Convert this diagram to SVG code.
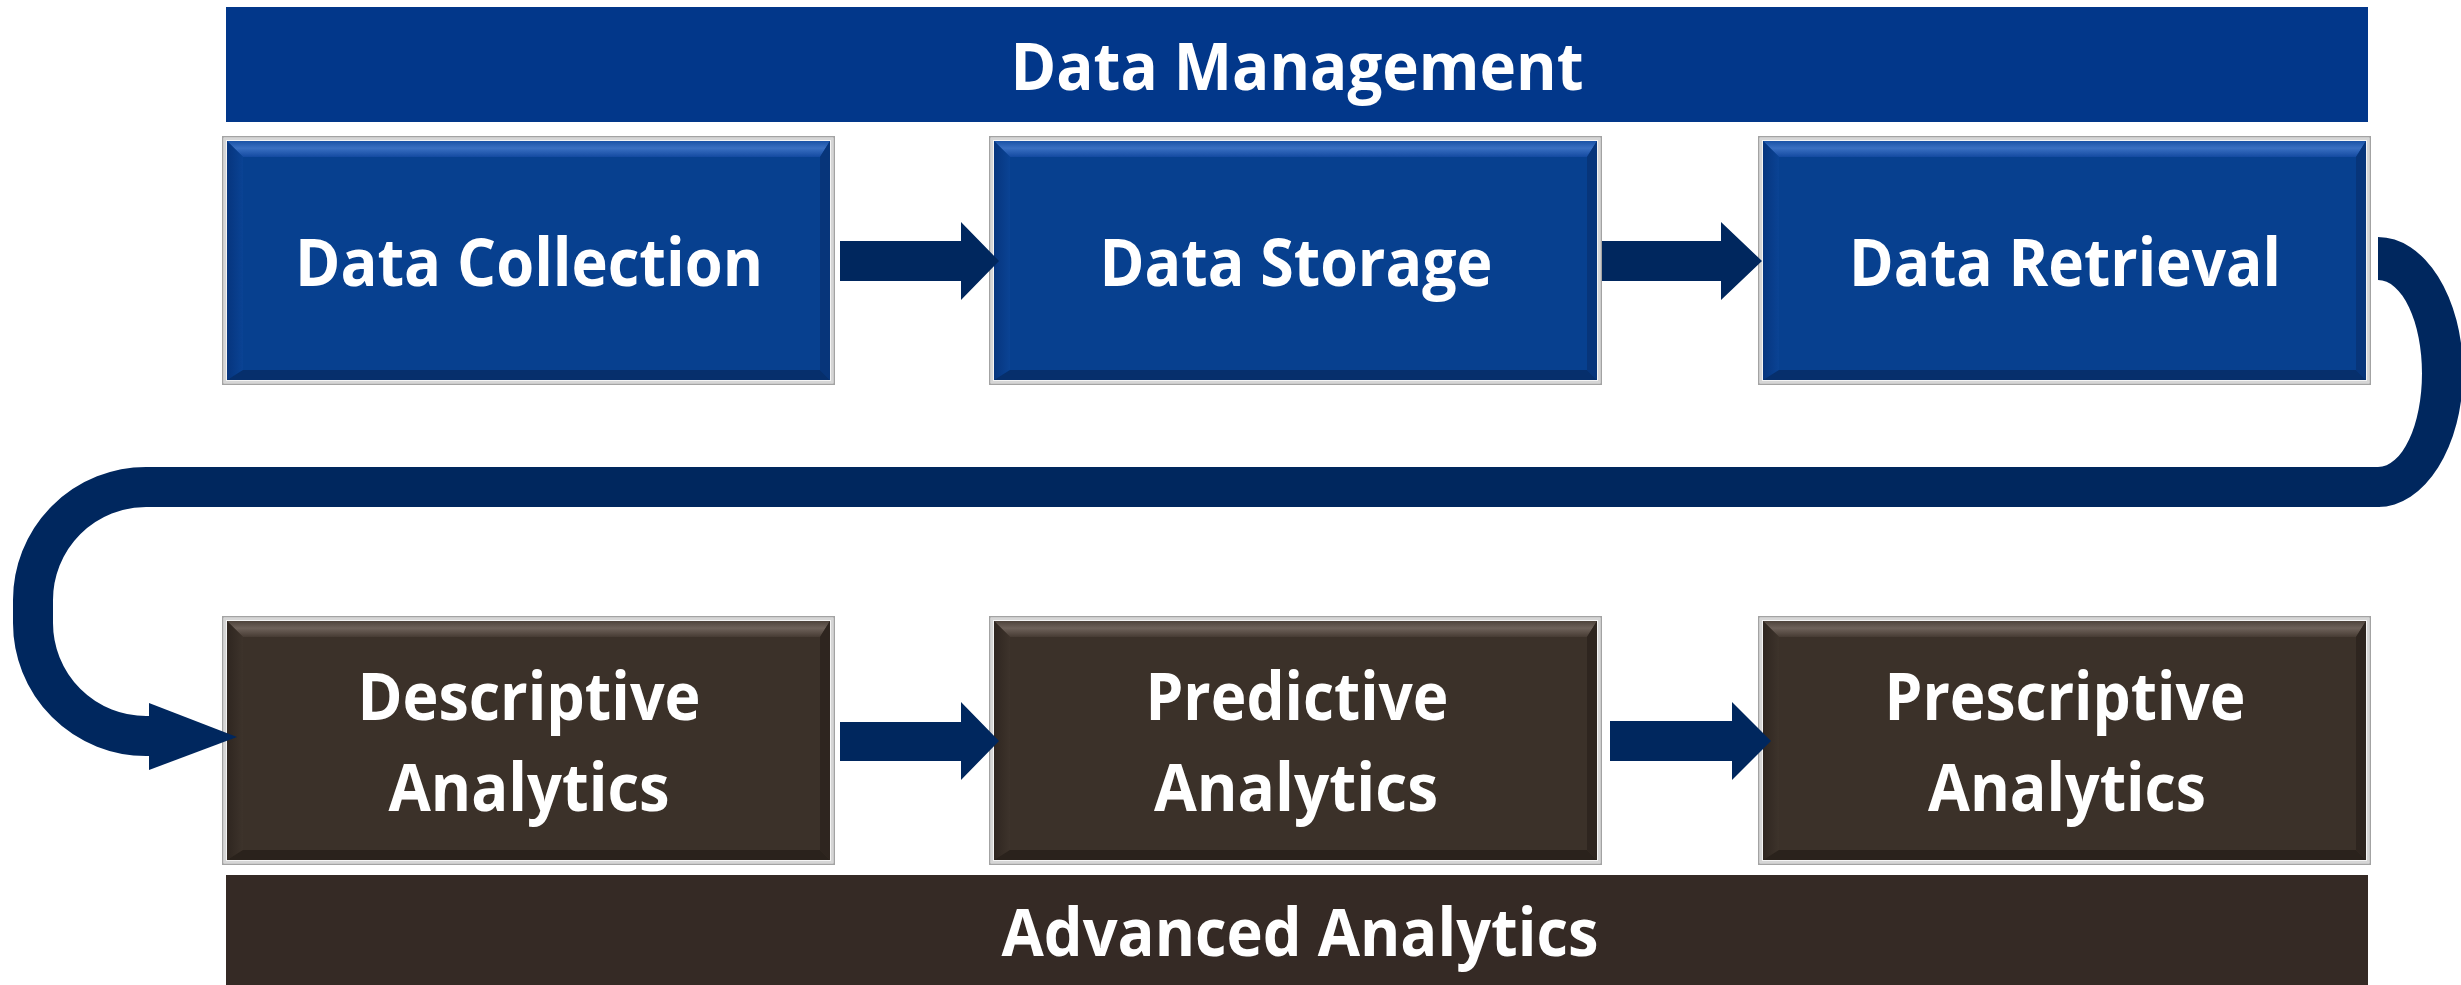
<svg xmlns="http://www.w3.org/2000/svg" xmlns:xlink="http://www.w3.org/1999/xlink" width="2461" height="985" viewBox="0 0 2461 985">
  <style>
    .lbl { font-family: "Open Sans", "Noto Sans", "Liberation Sans", sans-serif; font-weight: 700; font-size: 67px; fill: #ffffff; text-anchor: middle; }
    .conn { fill: #00275E; }
    .frame { fill: #F4F4F4; stroke: #A3A3A3; stroke-width: 1.5; }
    .frame-in { fill: none; stroke: #D6D6D6; stroke-width: 2; }
  </style>
  <defs>
    <linearGradient id="blueTop" x1="0" y1="0" x2="0" y2="1">
      <stop offset="0" stop-color="#1A52A6"/>
      <stop offset="0.45" stop-color="#3A70C2"/>
      <stop offset="1" stop-color="#1349A0"/>
    </linearGradient>
    <linearGradient id="blueLeft" x1="0" y1="0" x2="1" y2="0">
      <stop offset="0" stop-color="#06357E"/>
      <stop offset="1" stop-color="#0A4394"/>
    </linearGradient>
    <linearGradient id="brownTop" x1="0" y1="0" x2="0" y2="1">
      <stop offset="0" stop-color="#4E433B"/>
      <stop offset="0.45" stop-color="#6E625A"/>
      <stop offset="1" stop-color="#463B33"/>
    </linearGradient>
    <linearGradient id="brownLeft" x1="0" y1="0" x2="1" y2="0">
      <stop offset="0" stop-color="#2F2620"/>
      <stop offset="1" stop-color="#3D332B"/>
    </linearGradient>

    <!-- bevelled tile, 613 x 249, blue -->
    <g id="tileBlue">
      <rect class="frame" x="0.75" y="0.75" width="611.5" height="247.5"/>
      <rect class="frame-in" x="3" y="3" width="607" height="243"/>
      <rect x="5" y="5" width="603" height="239" fill="#07408F"/>
      <polygon points="5,5 608,5 598,21 21,21" fill="url(#blueTop)"/>
      <polygon points="5,5 21,21 21,234 5,244" fill="url(#blueLeft)"/>
      <polygon points="608,5 608,244 598,234 598,21" fill="#07357A"/>
      <polygon points="5,244 608,244 598,234 21,234" fill="#062F6C"/>
    </g>

    <!-- bevelled tile, 613 x 249, brown -->
    <g id="tileBrown">
      <rect class="frame" x="0.75" y="0.75" width="611.5" height="247.5"/>
      <rect class="frame-in" x="3" y="3" width="607" height="243"/>
      <rect x="5" y="5" width="603" height="239" fill="#3B3129"/>
      <polygon points="5,5 608,5 598,21 21,21" fill="url(#brownTop)"/>
      <polygon points="5,5 21,21 21,234 5,244" fill="url(#brownLeft)"/>
      <polygon points="608,5 608,244 598,234 598,21" fill="#2E251F"/>
      <polygon points="5,244 608,244 598,234 21,234" fill="#2A221C"/>
    </g>
  </defs>

  <rect width="2461" height="985" fill="#ffffff"/>

  <!-- header band -->
  <g id="data-management">
    <rect x="226" y="7" width="2142" height="115" fill="#02378A"/>
    <text class="lbl" x="1297" y="90" textLength="573" lengthAdjust="spacingAndGlyphs">Data Management</text>
  </g>

  <!-- top row -->
  <g id="data-collection">
    <use xlink:href="#tileBlue" x="222" y="136"/>
    <text class="lbl" x="529" y="286" textLength="468" lengthAdjust="spacingAndGlyphs">Data Collection</text>
  </g>
  <g id="data-storage">
    <use xlink:href="#tileBlue" x="989" y="136"/>
    <text class="lbl" x="1296" y="286" textLength="393" lengthAdjust="spacingAndGlyphs">Data Storage</text>
  </g>
  <g id="data-retrieval">
    <use xlink:href="#tileBlue" x="1758" y="136"/>
    <text class="lbl" x="2065" y="286" textLength="432" lengthAdjust="spacingAndGlyphs">Data Retrieval</text>
  </g>

  <!-- bottom row -->
  <g id="descriptive-analytics">
    <use xlink:href="#tileBrown" x="222" y="616"/>
    <text class="lbl" x="529" y="720" textLength="343" lengthAdjust="spacingAndGlyphs">Descriptive</text>
    <text class="lbl" x="529" y="811" textLength="281" lengthAdjust="spacingAndGlyphs">Analytics</text>
  </g>
  <g id="predictive-analytics">
    <use xlink:href="#tileBrown" x="989" y="616"/>
    <text class="lbl" x="1297" y="720" textLength="303" lengthAdjust="spacingAndGlyphs">Predictive</text>
    <text class="lbl" x="1296" y="811" textLength="284" lengthAdjust="spacingAndGlyphs">Analytics</text>
  </g>
  <g id="prescriptive-analytics">
    <use xlink:href="#tileBrown" x="1758" y="616"/>
    <text class="lbl" x="2065" y="720" textLength="361" lengthAdjust="spacingAndGlyphs">Prescriptive</text>
    <text class="lbl" x="2067" y="811" textLength="278" lengthAdjust="spacingAndGlyphs">Analytics</text>
  </g>

  <!-- footer band -->
  <g id="advanced-analytics">
    <rect x="226" y="875" width="2142" height="110" fill="#352A25"/>
    <text class="lbl" x="1300" y="956" textLength="597" lengthAdjust="spacingAndGlyphs">Advanced Analytics</text>
  </g>

  <!-- connectors -->
  <g id="connectors">
    <polygon class="conn" points="840,241 961,241 961,222 999,261 961,300 961,281 840,281"/>
    <polygon class="conn" points="1602,241 1721,241 1721,222 1762,261 1721,300 1721,281 1602,281"/>
    <polygon class="conn" points="840,722 961,722 961,702 999,741 961,780 961,761 840,761"/>
    <polygon class="conn" points="1610,721 1732,721 1732,702 1771,741 1732,780 1732,761 1610,761"/>
    <!-- return loop from the top row down to the bottom row -->
    <path class="conn" d="M2378,237 A85,135 0 0 1 2378,507 L2378,467 A44,93.5 0 0 0 2378,280 Z"/>
    <path d="M2380,487 H146 A113,113 0 0 0 33,600 V623 A113,113 0 0 0 146,736 H151" fill="none" stroke="#00275E" stroke-width="40"/>
    <polygon class="conn" points="149,703 237,737 149,770"/>
  </g>
</svg>
